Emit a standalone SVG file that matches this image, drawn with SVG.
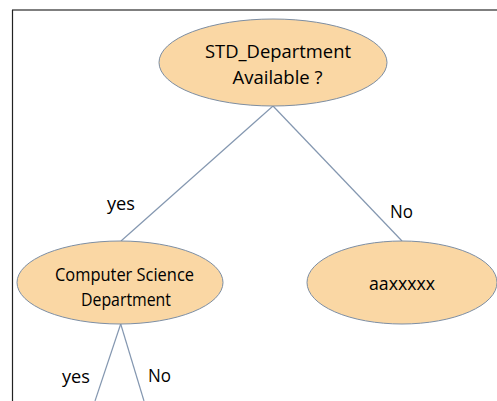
<svg xmlns="http://www.w3.org/2000/svg" width="497" height="401" viewBox="0 0 497 401">
<style>
.node ellipse{fill:#fad7a4;stroke:#7d8ea3;stroke-width:1}
.lbl{font-family:"Open Sans","Liberation Sans",sans-serif;font-size:18px;fill:#000;text-anchor:middle}
.conn line{stroke:#8497b0;stroke-width:1.2}
</style>
<rect x="0" y="0" width="497" height="401" fill="#fff"/>
<line x1="12" y1="10" x2="497" y2="10" stroke="#555" stroke-width="1.5"/>
<line x1="12.5" y1="10" x2="12.5" y2="401" stroke="#222" stroke-width="1.2"/>
<g id="connectors" class="conn">
<line x1="273" y1="106" x2="121" y2="241"/>
<line x1="273" y1="106" x2="402" y2="241"/>
<line x1="120.7" y1="324" x2="95" y2="401"/>
<line x1="120.7" y1="324" x2="144" y2="401"/>
</g>
<g id="edge-labels">
<text class="lbl" x="121" y="210" textLength="28" lengthAdjust="spacingAndGlyphs">yes</text>
<text class="lbl" x="401.5" y="218" textLength="23" lengthAdjust="spacingAndGlyphs">No</text>
<text class="lbl" x="76" y="383" textLength="28" lengthAdjust="spacingAndGlyphs">yes</text>
<text class="lbl" x="159.5" y="382" textLength="23" lengthAdjust="spacingAndGlyphs">No</text>
</g>
<g id="node-root" class="node">
<ellipse cx="273" cy="62.5" rx="114" ry="43.5"/>
<text class="lbl" x="278" y="57.5" textLength="146" lengthAdjust="spacingAndGlyphs">STD_Department</text>
<text class="lbl" x="277.5" y="83.5" textLength="90" lengthAdjust="spacingAndGlyphs">Available ?</text>
</g>
<g id="node-cs" class="node">
<ellipse cx="120" cy="282.5" rx="103" ry="41.5"/>
<text class="lbl" x="124.5" y="281" textLength="139" lengthAdjust="spacingAndGlyphs">Computer Science</text>
<text class="lbl" x="126" y="305.5" textLength="90" lengthAdjust="spacingAndGlyphs">Department</text>
</g>
<g id="node-aax" class="node">
<ellipse cx="402" cy="282.5" rx="95" ry="41.5"/>
<text class="lbl" x="402" y="290" textLength="66" lengthAdjust="spacingAndGlyphs">aaxxxxx</text>
</g>
</svg>
